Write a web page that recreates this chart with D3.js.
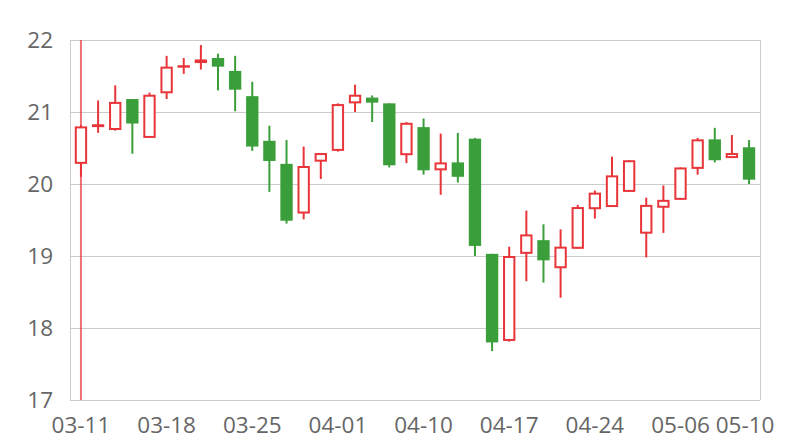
<!DOCTYPE html>
<html><head><meta charset="utf-8">
<script src="https://cdn.jsdelivr.net/npm/d3@7"></script>
<style>body{margin:0;background:#fff}svg text{font-family:"Open Sans",sans-serif}</style>
</head><body><svg id="c" width="800" height="440"></svg>
<script>
const dates = ["03-11","03-12","03-13","03-14","03-15","03-18","03-19","03-20","03-21","03-22",
"03-25","03-26","03-27","03-28","03-29","04-01","04-02","04-03","04-08","04-09",
"04-10","04-11","04-12","04-15","04-16","04-17","04-18","04-19","04-22","04-23",
"04-24","04-25","04-26","04-29","04-30","05-06","05-07","05-08","05-09","05-10"];
const open  = [20.28,20.79,20.75,21.18,20.64,21.26,21.62,21.68,21.75,21.57,
21.22,20.60,20.28,19.59,20.31,20.46,21.12,21.20,21.12,20.40,
20.79,20.19,20.30,20.63,19.03,17.82,19.03,19.22,18.83,19.10,
19.65,19.68,19.89,19.31,19.67,19.78,20.21,20.62,20.36,20.51];
const close = [20.80,20.83,21.14,20.84,21.24,21.63,21.65,21.73,21.63,21.31,
20.52,20.32,19.49,20.25,20.43,21.11,21.24,21.13,20.26,20.85,
20.19,20.30,20.10,19.14,17.80,19.00,19.30,18.94,19.13,19.68,
19.88,20.12,20.33,19.71,19.78,20.23,20.62,20.33,20.43,20.06];
const high  = [20.82,21.16,21.37,21.18,21.27,21.78,21.75,21.93,21.81,21.78,
21.42,20.81,20.61,20.52,20.43,21.12,21.38,21.23,21.12,20.86,
20.91,20.70,20.71,20.64,19.03,19.13,19.63,19.44,19.37,19.71,
19.91,20.38,20.33,19.81,19.98,20.23,20.64,20.78,20.68,20.61];
const low   = [20.10,20.71,20.74,20.42,20.64,21.18,21.53,21.59,21.30,21.01,
20.46,19.89,19.45,19.51,20.07,20.45,21.00,20.86,20.23,20.29,
20.13,19.85,20.02,19.00,17.68,17.81,18.65,18.63,18.42,19.10,
19.52,19.68,19.89,18.98,19.32,19.78,20.13,20.30,20.36,20.00];
const xTickLabels = ["03-11","03-18","03-25","04-01","04-10","04-17","04-24","05-06","05-10"];
const yTicks = [17,18,19,20,21,22];
const markerDate = "03-11";

const UP = "#e8353a", DOWN = "#3a9f3a", GRID = "#cccccc", TXT = "#666666";
const FONT = "'Open Sans',sans-serif", FS = 22.5;
const L = 70, R = 760, T = 40, B = 400;
const svg = d3.select("#c");
const x = d3.scaleBand().domain(dates).range([L, R]).padding(0.28);
const y = d3.scaleLinear().domain([17, 22]).range([B, T]);
const cx = d => x(d) + x.bandwidth() / 2;

// grid
svg.append("g").selectAll("line").data(yTicks).join("line")
  .attr("x1", L).attr("x2", R).attr("y1", d => y(d)).attr("y2", d => y(d))
  .attr("stroke", GRID).attr("stroke-width", 1).attr("shape-rendering","crispEdges");
svg.append("line").attr("x1", L).attr("x2", L).attr("y1", T).attr("y2", B).attr("stroke", GRID).attr("shape-rendering","crispEdges");
svg.append("line").attr("x1", R).attr("x2", R).attr("y1", T).attr("y2", B).attr("stroke", GRID).attr("shape-rendering","crispEdges");

// y axis
const ya = svg.append("g").attr("transform", `translate(${L},0)`)
  .call(d3.axisLeft(y).tickValues(yTicks).tickFormat(d3.format("d")).tickSize(0).tickPadding(17));
ya.select(".domain").remove();
ya.selectAll("text").attr("fill", TXT).attr("font-size", FS).attr("font-family", FONT);

// x axis
const xa = svg.append("g").attr("transform", `translate(0,${B})`)
  .call(d3.axisBottom(x).tickValues(xTickLabels).tickSize(0).tickPadding(17));
xa.select(".domain").remove();
xa.selectAll("text").attr("fill", TXT).attr("font-size", FS).attr("font-family", FONT)
  .attr("dx", d => d === "05-10" ? -4 : 0);

// marker line
svg.append("line").attr("x1", cx(markerDate)).attr("x2", cx(markerDate))
  .attr("y1", T).attr("y2", B).attr("stroke", UP).attr("stroke-width", 2).attr("opacity", 0.7);

const data = dates.map((d, i) => ({d, o: open[i], c: close[i], h: high[i], l: low[i]}));
const g = svg.append("g");
const isUp = v => v.c >= v.o;
g.selectAll("line.w").data(data).join("line").attr("class","w")
  .attr("x1", v => cx(v.d)).attr("x2", v => cx(v.d))
  .attr("y1", v => y(v.h)).attr("y2", v => y(v.l))
  .attr("stroke", v => isUp(v) ? UP : DOWN).attr("stroke-width", 2);
g.selectAll("rect").data(data).join("rect")
  .attr("x", v => isUp(v) ? x(v.d) + 1 : x(v.d))
  .attr("width", v => isUp(v) ? x.bandwidth() - 2 : x.bandwidth())
  .attr("y", v => isUp(v) ? y(Math.max(v.o, v.c)) + 1 : y(Math.max(v.o, v.c)))
  .attr("height", v => { const h = Math.abs(y(v.o) - y(v.c)); return isUp(v) ? Math.max(h - 2, 0.5) : Math.max(h, 1); })
  .attr("fill", v => isUp(v) ? "#ffffff" : DOWN)
  .attr("stroke", v => isUp(v) ? UP : DOWN)
  .attr("stroke-width", v => isUp(v) ? 2 : 0);
</script></body></html>
